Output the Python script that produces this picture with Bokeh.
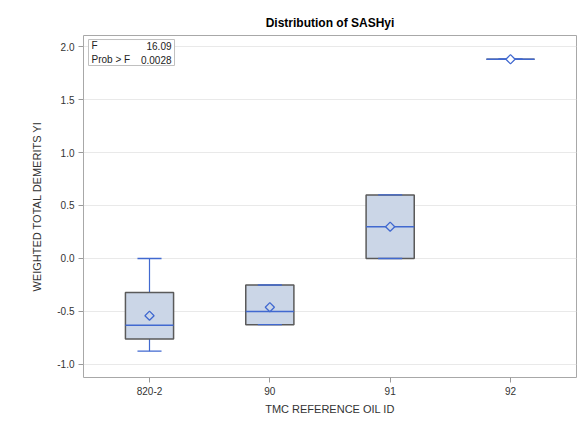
import math
from bokeh.plotting import figure
from bokeh.models import FactorRange, Range1d, FixedTicker, NumeralTickFormatter, BoxAnnotation, Label, ColumnDataSource
from bokeh.embed import file_html
from bokeh.resources import INLINE

# ---- data ----
cats = ["820-2", "90", "91", "92"]
mins = [-0.875, -0.625, 0.0, 1.88]
q1s = [-0.76, -0.625, 0.0, 1.88]
medians = [-0.63, -0.50, 0.30, 1.88]
q3s = [-0.32, -0.25, 0.60, 1.88]
maxs = [0.0, -0.25, 0.60, 1.88]
means = [-0.54, -0.46, 0.30, 1.88]
y_ticks = [-1.0, -0.5, 0.0, 0.5, 1.0, 1.5, 2.0]
stat_names = ["F", "Prob > F"]
stat_values = ["16.09", "0.0028"]

FONT = "Liberation Sans"
BOX_FILL = "#cbd6e7"
BOX_LINE = "#5a5a5a"
BLUE = "#4169d0"
BOX_W = 0.4
CAP_W = 0.2

p = figure(
    x_range=FactorRange(factors=cats, range_padding=0.0485, range_padding_units="absolute"),
    y_range=Range1d(-1.123, 2.104),
    frame_width=493, frame_height=342,
    min_border_left=83, min_border_right=3, min_border_top=35, min_border_bottom=50,
    output_backend="svg", toolbar_location=None,
    title="Distribution of SASHyi",
)
p.title.align = "center"
p.title.text_font = FONT
p.title.text_font_size = "12px"
p.title.text_font_style = "bold"
p.title.text_color = "#000000"
p.title.standoff = 12

p.background_fill_color = "white"
p.border_fill_color = "white"
p.outline_line_color = "#a8a8a8"
p.outline_line_width = 1

p.xgrid.grid_line_color = None
p.ygrid.grid_line_color = "#e9e9e9"
p.ygrid.grid_line_width = 1

for ax in (p.xaxis[0], p.yaxis[0]):
    ax.axis_line_color = None
    ax.major_tick_line_color = "#9a9a9a"
    ax.major_tick_in = 0
    ax.major_tick_out = 5
    ax.minor_tick_line_color = None
    ax.major_label_text_font = FONT
    ax.major_label_text_font_size = "10px"
    ax.major_label_text_color = "#333333"
    ax.axis_label_text_font = FONT
    ax.axis_label_text_font_size = "11px"
    ax.axis_label_text_font_style = "normal"
    ax.axis_label_text_color = "#333333"

p.yaxis.ticker = FixedTicker(ticks=y_ticks)
p.yaxis.formatter = NumeralTickFormatter(format="0.0")
p.yaxis.axis_label = "WEIGHTED TOTAL DEMERITS YI"
p.yaxis.major_label_standoff = 4
p.yaxis.axis_label_standoff = 11
p.xaxis.axis_label = "TMC REFERENCE OIL ID"
p.xaxis.major_label_standoff = 4
p.xaxis.axis_label_standoff = 5

mean_fill = [BOX_FILL if q3 > q1 else "white" for q1, q3 in zip(q1s, q3s)]
src = ColumnDataSource(dict(
    cat=cats, mn=mins, q1=q1s, med=medians, q3=q3s, mx=maxs, mean=means, mfill=mean_fill,
    box_l=[(c, -BOX_W / 2) for c in cats], box_r=[(c, BOX_W / 2) for c in cats],
    cap_l=[(c, -CAP_W / 2) for c in cats], cap_r=[(c, CAP_W / 2) for c in cats],
))

# whiskers
p.segment(x0="cat", y0="q3", x1="cat", y1="mx", source=src, line_color=BLUE, line_width=1.2)
p.segment(x0="cat", y0="q1", x1="cat", y1="mn", source=src, line_color=BLUE, line_width=1.2)
# box
p.vbar(x="cat", width=BOX_W, top="q3", bottom="q1", source=src, fill_color=BOX_FILL,
       line_color=BOX_LINE, line_width=1.5)
# caps
p.segment(x0="cap_l", y0="mx", x1="cap_r", y1="mx", source=src, line_color=BLUE, line_width=1.3)
p.segment(x0="cap_l", y0="mn", x1="cap_r", y1="mn", source=src, line_color=BLUE, line_width=1.3)
# median
p.segment(x0="box_l", y0="med", x1="box_r", y1="med", source=src, line_color=BLUE, line_width=1.5)
# mean
p.scatter(x="cat", y="mean", source=src, marker="square", angle=math.pi / 4, size=6.5,
          fill_color="mfill", line_color=BLUE, line_width=1.3)

# inset statistics table
p.add_layout(BoxAnnotation(left=-0.007, right=0.708, top=2.066, bottom=1.821,
                           fill_color="white", fill_alpha=1, line_color="#c0c0c0", line_width=1,
                           line_alpha=1))
row_y = [2.009, 1.877]
for name, val, yy in zip(stat_names, stat_values, row_y):
    p.add_layout(Label(x=0.018, y=yy, text=name, text_font=FONT, text_font_size="10px",
                       text_color="#222222", text_baseline="middle", text_align="left"))
    p.add_layout(Label(x=0.683, y=yy, text=val, text_font=FONT, text_font_size="10px",
                       text_color="#222222", text_baseline="middle", text_align="right"))

open("out.html", "w").write(file_html(p, INLINE))
